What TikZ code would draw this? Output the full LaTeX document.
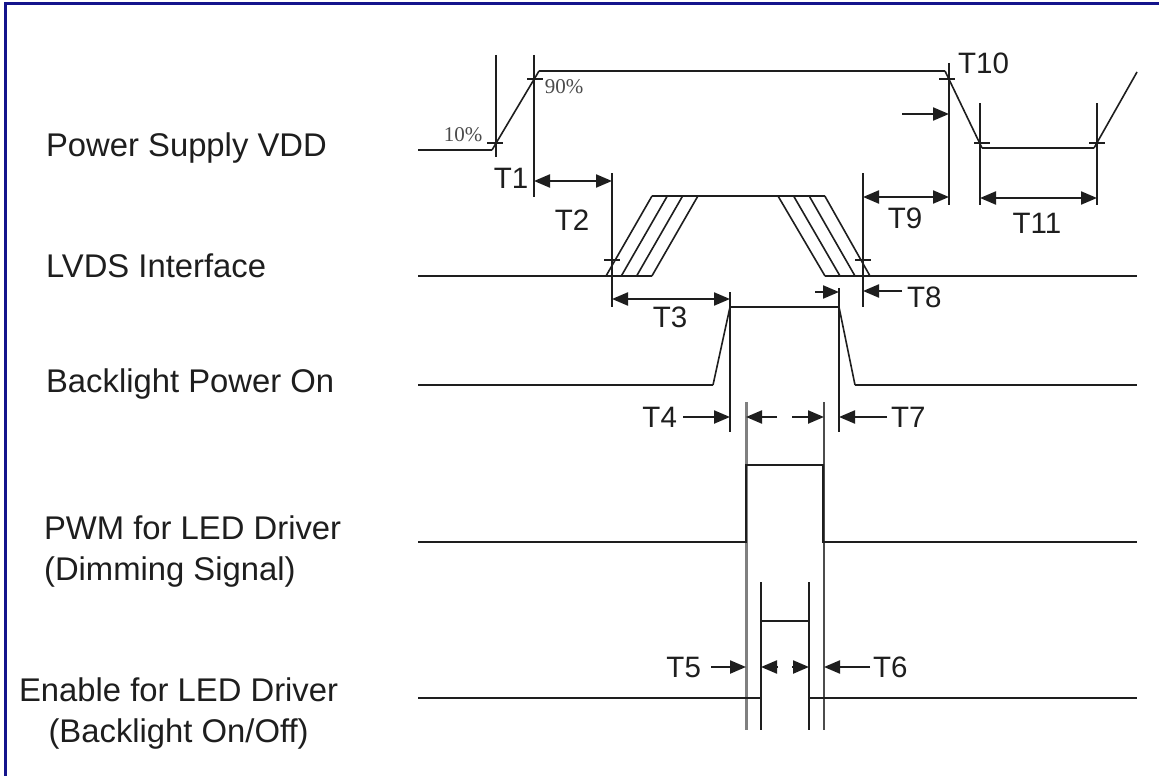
\documentclass[tikz,border=0pt]{standalone}
\usepackage{fontspec}
\setmainfont{Liberation Sans}
\newfontfamily\pctfont{Liberation Serif}
\usetikzlibrary{arrows.meta}
\definecolor{framecol}{RGB}{20,20,140}
\definecolor{ink}{RGB}{30,30,30}

\begin{document}
\begin{tikzpicture}[x=1pt,y=-1pt,line width=2.2pt,draw=ink,>={Triangle[length=16pt,width=13pt]},
  lbl/.style={font=\fontsize{32.8}{41}\selectfont,anchor=west,inner sep=0pt,text=ink},
  tlab/.style={font=\fontsize{29.5}{34}\selectfont,inner sep=0pt,text=ink},
  pct/.style={font=\pctfont\fontsize{21}{24}\selectfont,inner sep=0pt,text=ink!80},
  tick/.style={line width=1.4pt},
  thin/.style={line width=1.6pt}]
  \useasboundingbox (0,0) rectangle (1159,776);
  \fill[white] (0,0) rectangle (1159,776);
  \draw[line width=3pt,framecol] (5,776) -- (5,4) -- (1159,4);
  % signal names
  \node[lbl] (vdd) at (45,148) {Power Supply VDD};
  \node[lbl] (lvds) at (45,266) {LVDS Interface};
  \node[lbl] (blon) at (45,384) {Backlight Power On};
  \node[lbl,align=left] (pwm) at (43,552) {PWM for LED Driver\\(Dimming Signal)};
  \node[lbl,align=center] (en) at (18,714) {Enable for LED Driver\\(Backlight On/Off)};
  % VDD
  \draw (418,150) -- (492,150);
  \draw[thin] (492,150) -- (539,71);
  \draw (539,71) -- (945,71);
  \draw[thin] (945,71) -- (982,148);
  \draw (982,148) -- (1094,148);
  \draw[thin] (1094,148) -- (1137,72);
  \draw (496,55) -- (496,157);  \draw (534,55) -- (534,197);
  \draw (949,63) -- (949,205);
  \draw (980,103) -- (980,205); \draw (1097,103) -- (1097,205);
  \foreach \x/\y in {495/143,535/79,947/79,982/143,1097/143}
    \draw[tick] (\x-8,\y) -- (\x+8,\y);
  \node[pct] (p10) at (463,135) {10\%};
  \node[pct] (p90) at (564,87) {90\%};
  \node[tlab] (t1) at (511,178) {T1};
  \node[tlab] (t2) at (572,220) {T2};
  \node[tlab] (t9) at (905,218) {T9};
  \node[tlab] (t11) at (1037,223) {T11};
  \node[tlab,anchor=west] (t10) at (957,63) {T10};
  \draw[<->] (534,181) -- (612,181);
  \draw[<->] (863,197) -- (949,197);
  \draw[<->] (980,198) -- (1097,198);
  \draw[->] (902,114) -- (949,114);
  % LVDS
  \draw (418,276) -- (652,276);
  \draw (825,276) -- (1137,276);
  \draw[thin] (652,196) -- (825,196);
  \foreach \i in {0,...,3}{
    \draw[thin] (606+15.3*\i,276) -- (652+15.3*\i,196);
    \draw[thin] (778+15.6*\i,196) -- (825+15*\i,276);}
  \draw (612,173) -- (612,307); \draw (863,173) -- (863,307);
  \draw[tick] (604,260) -- (620,260); \draw[tick] (855,260) -- (871,260);
  \node[tlab] (t3) at (670,317) {T3};
  \node[tlab,anchor=west] (t8) at (906,297) {T8};
  \draw[<->] (612,299) -- (730,299);
  \draw[->] (902,291) -- (863,291);
  \draw[->] (815,292) -- (839,292);
  % backlight power
  \draw (418,385) -- (713,385);
  \draw[thin] (713,385) -- (730,307);
  \draw (730,307) -- (839,307);
  \draw[thin] (839,307) -- (855,385);
  \draw (855,385) -- (1137,385);
  \draw (730,292) -- (730,432); \draw (839,288) -- (839,432);
  \node[tlab,anchor=east] (t4) at (678,417) {T4};
  \node[tlab,anchor=west] (t7) at (890,417) {T7};
  \draw[->] ([xshift=5pt]t4.east) -- (730,417);
  \draw[->] ([xshift=-3pt]t7.west) -- (839,417);
  % PWM
  \draw[black!50,line width=3pt] (746,402) -- (746,730);
  \draw[black!70] (824,402) -- (824,730);
  \draw[->] (777,417) -- (746,417);
  \draw[->] (792,417) -- (824,417);
  \draw (418,542) -- (746,542) -- (746,465) -- (823,465) -- (823,542) -- (1137,542);
  % enable
  \draw (761,582) -- (761,730); \draw (809,582) -- (809,730);
  \draw (418,698) -- (761,698) -- (761,621) -- (809,621) -- (809,698) -- (1137,698);
  \node[tlab,anchor=east] (t5) at (702,667) {T5};
  \node[tlab,anchor=west] (t6) at (872,667) {T6};
  \draw[->] ([xshift=9pt]t5.east) -- (746,667);
  \draw[->] ([xshift=-2pt]t6.west) -- (824,667);
  \draw[->] (778,667) -- (761,667);
  \draw[->] (792,667) -- (809,667);
\end{tikzpicture}
\end{document}
